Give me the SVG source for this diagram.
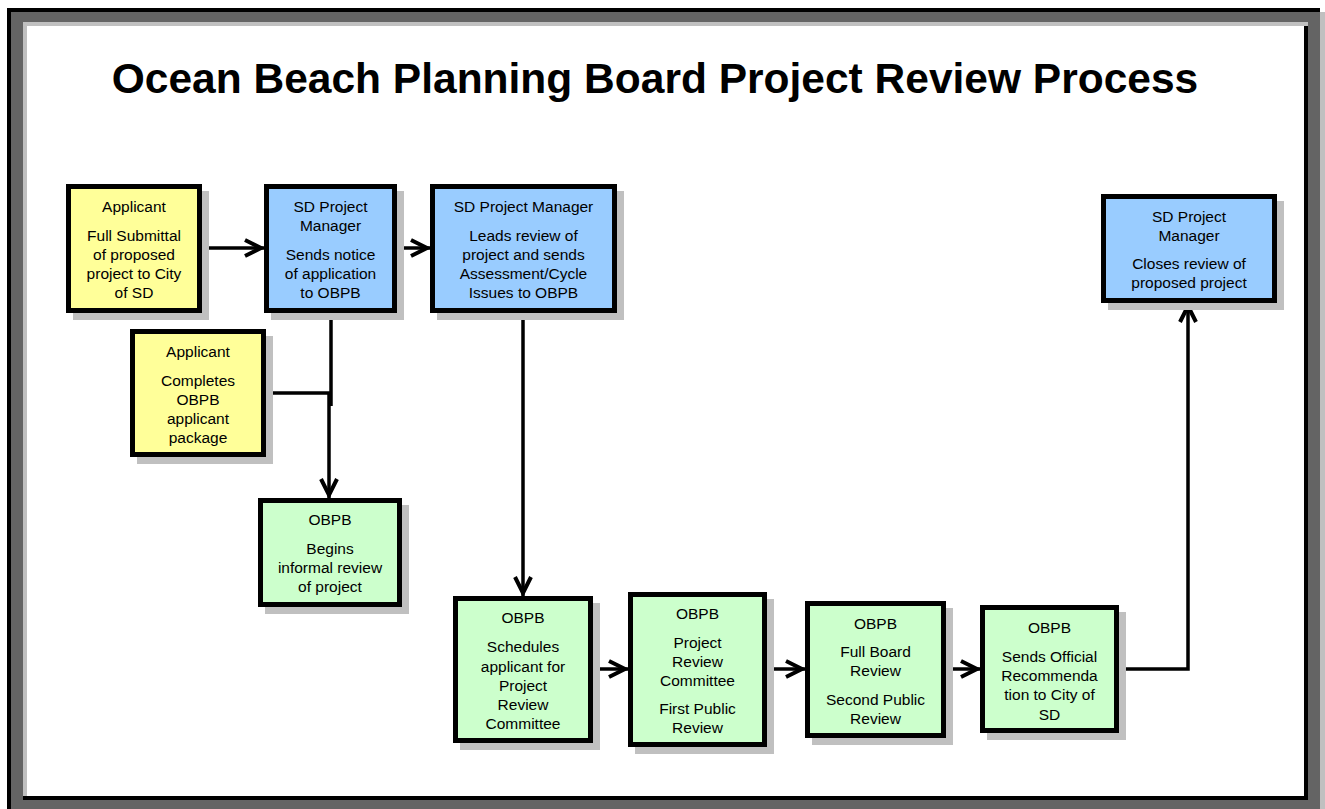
<svg xmlns="http://www.w3.org/2000/svg" width="1325" height="809" viewBox="0 0 1325 809">
<style>
.box{stroke:#000;stroke-width:5}
.y{fill:#ffff99}.b{fill:#99ccff}.g{fill:#ccffcc}
.sh{fill:#c0c0c0}
.t{font-family:"Liberation Sans",Arial,sans-serif;font-size:15.5px;fill:#000;text-anchor:middle}
.title{font-family:"Liberation Sans",Arial,sans-serif;font-size:42.5px;font-weight:bold;fill:#000;text-anchor:middle}
.c{fill:none;stroke:#000;stroke-width:3.5;marker-end:url(#arr)}
.cn{fill:none;stroke:#000;stroke-width:3.5}
</style>
<defs>
<marker id="arr" markerUnits="userSpaceOnUse" orient="auto" refX="3" refY="0" markerWidth="30" markerHeight="30" style="overflow:visible">
<path d="M-16,-8 L0,0 L-16,8" fill="none" stroke="#000" stroke-width="4"/>
</marker>
</defs>
<g id="frame">
<rect x="7" y="8" width="1313" height="801" fill="#000"/>
<rect x="11" y="12" width="1309" height="797" fill="#646464"/>
<rect x="1320" y="12" width="5" height="797" fill="#c0c0c0"/>
<rect x="23" y="22" width="1285" height="778" fill="#c0c0c0"/>
<rect x="27" y="26" width="1281" height="774" fill="#000"/>
<rect x="23" y="796" width="1285" height="4" fill="#000"/>
<rect x="27" y="26" width="1277" height="770" fill="#fff"/>
</g>
<text class="title" x="655" y="93">Ocean Beach Planning Board Project Review Process</text>
<g id="connectors">
<path class="c" d="M202 248 H264"/>
<path class="c" d="M397 248 H430"/>
<path class="cn" d="M331 313 V406"/>
<path class="c" d="M266 393 H329 V498"/>
<path class="c" d="M523 313 V596"/>
<path class="c" d="M593 669 H628"/>
<path class="c" d="M767 669 H805"/>
<path class="c" d="M946 669 H980"/>
<path class="c" d="M1119 669 H1188 V303"/>
</g>
<g id="n1">
<rect class="sh" x="73" y="191" width="136" height="129"/>
<rect class="box y" x="68.5" y="186.5" width="131" height="124"/>
<text class="t" x="134" y="211.5">Applicant</text>
<text class="t" x="134" y="240.5">Full Submittal</text>
<text class="t" x="134" y="259.5">of proposed</text>
<text class="t" x="134" y="278.5">project to City</text>
<text class="t" x="134" y="297.5">of SD</text>
</g>
<g id="n2">
<rect class="sh" x="271" y="191" width="133" height="129"/>
<rect class="box b" x="266.5" y="186.5" width="128" height="124"/>
<text class="t" x="330.5" y="211.5">SD Project</text>
<text class="t" x="330.5" y="230.5">Manager</text>
<text class="t" x="330.5" y="259.5">Sends notice</text>
<text class="t" x="330.5" y="278.5">of application</text>
<text class="t" x="330.5" y="297.5">to OBPB</text>
</g>
<g id="n3">
<rect class="sh" x="437" y="191" width="187" height="129"/>
<rect class="box b" x="432.5" y="186.5" width="182" height="124"/>
<text class="t" x="523.5" y="211.5">SD Project Manager</text>
<text class="t" x="523.5" y="240.5">Leads review of</text>
<text class="t" x="523.5" y="259.5">project and sends</text>
<text class="t" x="523.5" y="278.5">Assessment/Cycle</text>
<text class="t" x="523.5" y="297.5">Issues to OBPB</text>
</g>
<g id="n4">
<rect class="sh" x="137" y="336" width="136" height="128"/>
<rect class="box y" x="132.5" y="331.5" width="131" height="123"/>
<text class="t" x="198" y="357">Applicant</text>
<text class="t" x="198" y="385.5">Completes</text>
<text class="t" x="198" y="404.5">OBPB</text>
<text class="t" x="198" y="423.5">applicant</text>
<text class="t" x="198" y="442.5">package</text>
</g>
<g id="n5">
<rect class="sh" x="265" y="505" width="144" height="109"/>
<rect class="box g" x="260.5" y="500.5" width="139" height="104"/>
<text class="t" x="330" y="524.5">OBPB</text>
<text class="t" x="330" y="553.5">Begins</text>
<text class="t" x="330" y="573">informal review</text>
<text class="t" x="330" y="592">of project</text>
</g>
<g id="n6">
<rect class="sh" x="1108" y="201" width="176" height="109"/>
<rect class="box b" x="1103.5" y="196.5" width="171" height="104"/>
<text class="t" x="1189" y="221.5">SD Project</text>
<text class="t" x="1189" y="240.5">Manager</text>
<text class="t" x="1189" y="268.5">Closes review of</text>
<text class="t" x="1189" y="288">proposed project</text>
</g>
<g id="n7">
<rect class="sh" x="460" y="603" width="140" height="147"/>
<rect class="box g" x="455.5" y="598.5" width="135" height="142"/>
<text class="t" x="523" y="622.5">OBPB</text>
<text class="t" x="523" y="652">Schedules</text>
<text class="t" x="523" y="671.5">applicant for</text>
<text class="t" x="523" y="690.5">Project</text>
<text class="t" x="523" y="709.5">Review</text>
<text class="t" x="523" y="728.5">Committee</text>
</g>
<g id="n8">
<rect class="sh" x="635" y="599" width="139" height="155"/>
<rect class="box g" x="630.5" y="594.5" width="134" height="150"/>
<text class="t" x="697.5" y="618.5">OBPB</text>
<text class="t" x="697.5" y="647.5">Project</text>
<text class="t" x="697.5" y="666.5">Review</text>
<text class="t" x="697.5" y="685.5">Committee</text>
<text class="t" x="697.5" y="713.5">First Public</text>
<text class="t" x="697.5" y="732.5">Review</text>
</g>
<g id="n9">
<rect class="sh" x="812" y="608" width="141" height="137"/>
<rect class="box g" x="807.5" y="603.5" width="136" height="132"/>
<text class="t" x="875.5" y="628.5">OBPB</text>
<text class="t" x="875.5" y="657">Full Board</text>
<text class="t" x="875.5" y="676">Review</text>
<text class="t" x="875.5" y="704.5">Second Public</text>
<text class="t" x="875.5" y="723.5">Review</text>
</g>
<g id="n10">
<rect class="sh" x="987" y="612" width="139" height="128"/>
<rect class="box g" x="982.5" y="607.5" width="134" height="123"/>
<text class="t" x="1049.5" y="632.5">OBPB</text>
<text class="t" x="1049.5" y="662">Sends Official</text>
<text class="t" x="1049.5" y="681">Recommenda</text>
<text class="t" x="1049.5" y="700">tion to City of</text>
<text class="t" x="1049.5" y="719.5">SD</text>
</g>
</svg>
